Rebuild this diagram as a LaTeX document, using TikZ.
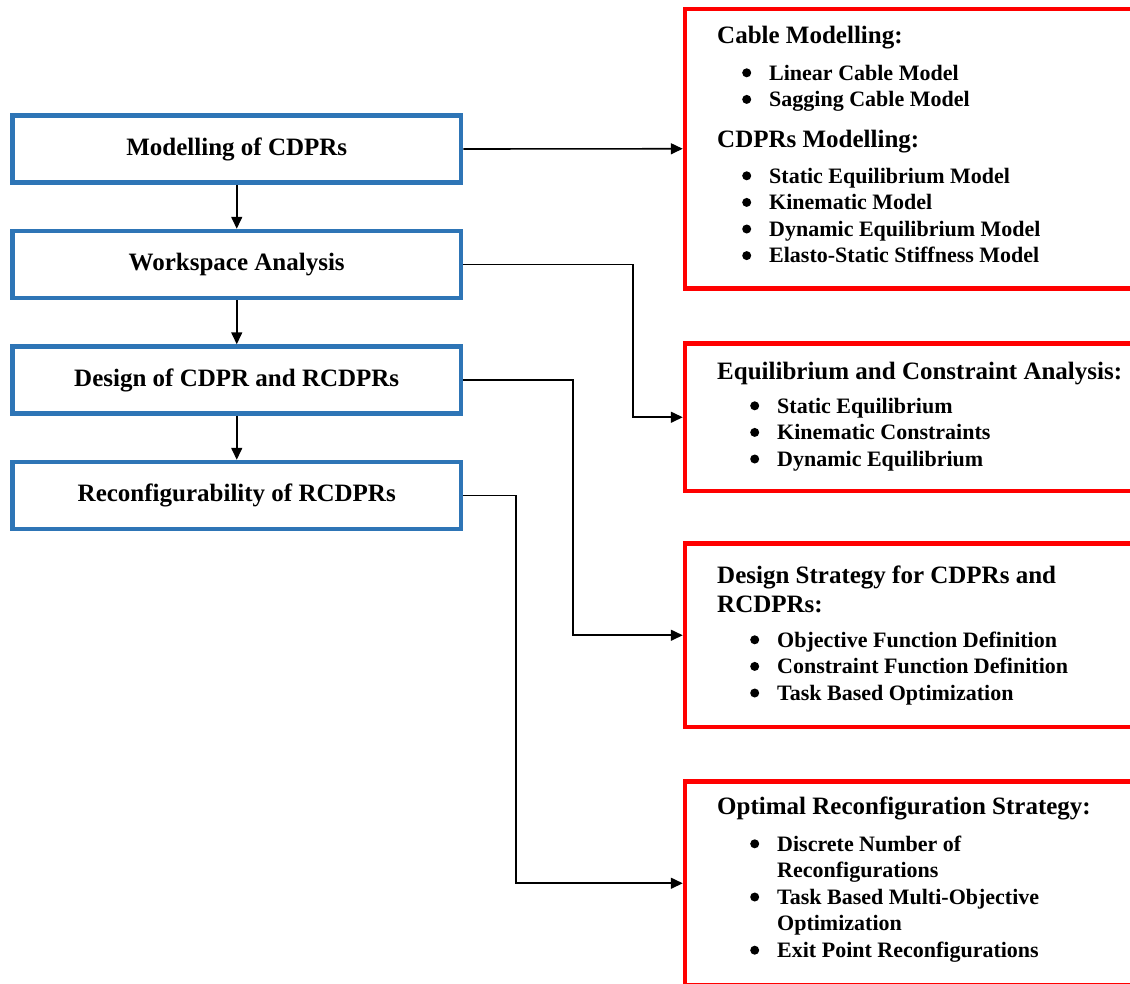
\documentclass[tikz,border=0pt]{standalone}
\usepackage{fontspec}
\setmainfont{Liberation Serif}
\usepackage{tikz}
\usetikzlibrary{arrows.meta}
\definecolor{boxblue}{RGB}{46,117,182}
\newcommand{\itm}{\makebox[27pt][l]{\tikz[baseline=0pt]\fill (4.5pt,7.2pt) circle[radius=4.5pt];}}
\newcommand{\ind}{\hspace*{27pt}}

\begin{document}
\begin{tikzpicture}[x=1pt,y=-1pt,
	stagebox/.style={draw=boxblue,line width=4.5pt,minimum width=448.5pt,minimum height=67pt,font=\fontsize{25}{30}\selectfont\bfseries},
	topicbox/.style={draw=red,line width=4.5pt,minimum width=460pt},
	topictitle/.style={anchor=base west,inner sep=0pt,font=\fontsize{25}{29}\selectfont\bfseries},
	topiclist/.style={anchor=base west,inner sep=0pt,font=\fontsize{22}{26.6}\selectfont\bfseries},
	link/.style={-{Triangle[length=12pt,width=11pt]},line width=1.6pt}]
	%page size, red boxes run off the right edge
	\useasboundingbox (0,0) rectangle (1130,983);
	\clip (0,0) rectangle (1130,983);

	%left column
	\node[stagebox] (cdpr) at (236.75,149) {Modelling of CDPRs};
	\node[stagebox] (wsa) at (236.75,264.5) {Workspace Analysis};
	\node[stagebox] (dsg) at (236.75,380) {Design of CDPR and RCDPRs};
	\node[stagebox] (rcf) at (236.75,495.5) {Reconfigurability of RCDPRs};

	%right column
	\node[topicbox,minimum height=279.5pt] (mdl) at (915,148.75) {};
	\node[topicbox,minimum height=147.5pt] (eqa) at (915,417.25) {};
	\node[topicbox,minimum height=183.5pt] (dss) at (915,635.25) {};
	\node[topicbox,minimum height=203.5pt] (ors) at (915,883.25) {};

	\node[topictitle] (mdl-t1) at (717,43) {Cable Modelling:};
	\node[topiclist] (mdl-l1) at (742,80) {\begin{tabular}[t]{@{}l@{}}
		\itm Linear Cable Model\\
		\itm Sagging Cable Model
	\end{tabular}};
	\node[topictitle] (mdl-t2) at (717,147) {CDPRs Modelling:};
	\node[topiclist] (mdl-l2) at (742,183) {\begin{tabular}[t]{@{}l@{}}
		\itm Static Equilibrium Model\\
		\itm Kinematic Model\\
		\itm Dynamic Equilibrium Model\\
		\itm Elasto-Static Stiffness Model
	\end{tabular}};

	\node[topictitle] (eqa-t) at (717,379) {Equilibrium and Constraint Analysis:};
	\node[topiclist] (eqa-l) at (750,413) {\begin{tabular}[t]{@{}l@{}}
		\itm Static Equilibrium\\
		\itm Kinematic Constraints\\
		\itm Dynamic Equilibrium
	\end{tabular}};

	\node[topictitle] (dss-t) at (717,583) {\begin{tabular}[t]{@{}l@{}}
		Design Strategy for CDPRs and\\
		RCDPRs:
	\end{tabular}};
	\node[topiclist] (dss-l) at (750,647) {\begin{tabular}[t]{@{}l@{}}
		\itm Objective Function Definition\\
		\itm Constraint Function Definition\\
		\itm Task Based Optimization
	\end{tabular}};

	\node[topictitle] (ors-t) at (717,814) {Optimal Reconfiguration Strategy:};
	\node[topiclist] (ors-l) at (750,851) {\begin{tabular}[t]{@{}l@{}}
		\itm Discrete Number of\\
		\ind Reconfigurations\\
		\itm Task Based Multi-Objective\\
		\ind Optimization\\
		\itm Exit Point Reconfigurations
	\end{tabular}};

	%arrows
	\draw[link] (cdpr) -- (wsa);
	\draw[link] (wsa) -- (dsg);
	\draw[link] (dsg) -- (rcf);
	\draw[link] (cdpr.east) -- (mdl.west);
	\draw[link] (wsa.east) -- ++(170,0) |- (eqa.west);
	\draw[link] (dsg.east) -- ++(109.5,0) |- (dss.west);
	\draw[link] (rcf.east) -- ++(52.5,0) |- (ors.west);
\end{tikzpicture}
\end{document}
